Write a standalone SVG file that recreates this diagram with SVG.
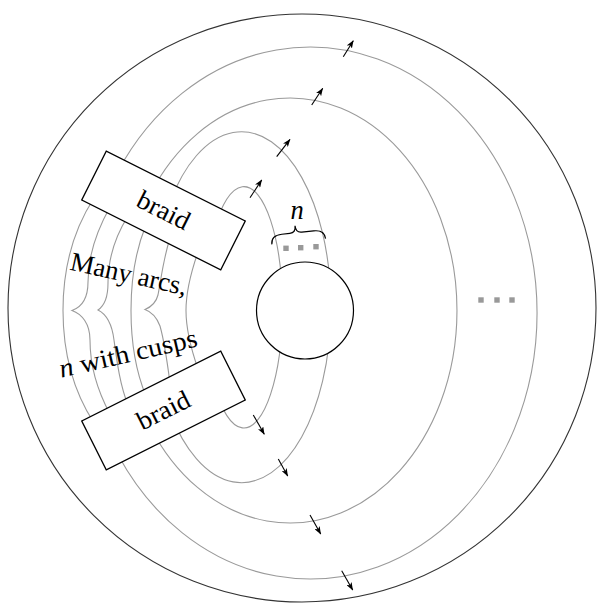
<svg xmlns="http://www.w3.org/2000/svg" width="597" height="605" viewBox="0 0 597 605">
<style>
.g{fill:none;stroke:#9a9a9a;stroke-width:1.1}
.box{fill:#fff;stroke:#000;stroke-width:1.3}
.ar{stroke:#000;stroke-width:1.1;fill:none;marker-end:url(#ah)}
.t{font-family:"Liberation Serif","DejaVu Serif",serif;font-size:26.5px;fill:#000}
.dot{fill:#999}
</style>
<defs>
<marker id="ah" markerWidth="8" markerHeight="6" refX="7.5" refY="3" orient="auto" markerUnits="userSpaceOnUse" viewBox="0 0 8 6">
<path d="M0,0 L8,3 L0,6 L2,3 z" fill="#000"/>
</marker>
</defs>
<rect width="597" height="605" fill="#fff"/>
<g id="outer-circle"><circle cx="302" cy="308" r="294" fill="none" stroke="#333" stroke-width="1.1"/></g>
<g id="connectors">
<path class="g" d="M 118 171.2 A 227 266 0 1 1 118 454.8"/>
<path class="g" d="M 150 194.6 A 167 212.5 0 1 1 150 426.4"/>
<path class="g" d="M 170 201.9 A 89.4 175.5 0 1 1 170 412.5"/>
<path class="g" d="M 215 227.5 A 38.5 120.7 0 1 1 215 387.1"/>
<path class="g" d="M 94 198 C 72 232, 63 270, 63 310.5 C 63 351, 72 389, 94 423"/>
<path class="g" d="M 110 207 C 96 232, 88 258, 88 282 C 88 298, 82 307, 72 310.5 C 82 314, 90 324, 90 340 C 90 364, 97 390, 110 414"/>
<path class="g" d="M 128 216 C 113 240, 108 262, 108 283 C 108 299, 104 306, 98 310 C 106 314, 112 324, 114 340 C 117 362, 120 385, 128 405"/>
<path class="g" d="M 146 225 C 134 254, 131 282, 131 310.5 C 131 339, 134 367, 146 396"/>
<path class="g" d="M 170 238 C 163 260, 161 280, 158 295 C 156 303, 151 307, 145 309.5 C 152 312, 157 318, 160 326 C 164 340, 167 360, 170 383"/>
<path class="g" d="M 198 252 C 190 275, 186 293, 186 310.5 C 186 328, 190 346, 198 369"/>
</g>
<g id="braid-top">
<rect class="box" x="-77.8" y="-27.3" width="155.6" height="54.6" transform="translate(163.5 210.5) rotate(26.7)"/>
<text class="t" text-anchor="middle" x="0" y="8.5" textLength="56" lengthAdjust="spacingAndGlyphs" transform="translate(163.5 210.5) rotate(26.7)">braid</text>
</g>
<g id="braid-bottom">
<rect class="box" x="-77.8" y="-27.3" width="155.6" height="54.6" transform="translate(163.5 410.5) rotate(-26.7)"/>
<text class="t" text-anchor="middle" x="0" y="8.5" textLength="56" lengthAdjust="spacingAndGlyphs" transform="translate(163.5 410.5) rotate(-26.7)">braid</text>
</g>
<g id="inner-circle"><circle cx="305" cy="310.5" r="48.5" fill="#fff" stroke="#000" stroke-width="1.2"/></g>
<g id="arrows">
<line class="ar" x1="250" y1="197.7" x2="261.7" y2="180"/>
<line class="ar" x1="276.7" y1="156.7" x2="290" y2="139.3"/>
<line class="ar" x1="311.7" y1="105" x2="322.7" y2="88.3"/>
<line class="ar" x1="343.3" y1="56.7" x2="353.3" y2="40.7"/>
<line class="ar" x1="253.3" y1="415" x2="264.3" y2="434.3"/>
<line class="ar" x1="278.3" y1="459" x2="287.7" y2="476"/>
<line class="ar" x1="310" y1="515" x2="320.7" y2="534"/>
<line class="ar" x1="341.7" y1="570.7" x2="352.7" y2="590"/>
</g>
<g id="label-n">
<path d="M -27 0 C -27 -6, -23 -9, -16 -9 L -8 -9 C -4 -9, -2 -11, -2 -16 C -2 -11, 0 -9, 4 -9 L 16 -9 C 23 -9, 27 -6, 27 0" fill="none" stroke="#000" stroke-width="1.2" transform="translate(298.7 241.5) rotate(-6)"/>
<text class="t" font-style="italic" text-anchor="middle" x="297" y="218.5">n</text>
<rect class="dot" x="283.3" y="245.6" width="5.4" height="5.4"/>
<rect class="dot" x="298" y="245" width="5.4" height="5.4"/>
<rect class="dot" x="313.3" y="244" width="5.4" height="5.4"/>
</g>
<g id="dots-right">
<rect class="dot" x="478.3" y="297.3" width="5.4" height="5.4"/>
<rect class="dot" x="494.3" y="297.3" width="5.4" height="5.4"/>
<rect class="dot" x="509.3" y="297.3" width="5.4" height="5.4"/>
</g>
<g id="label-arcs">
<text class="t" text-anchor="middle" x="0" y="0" textLength="119" lengthAdjust="spacingAndGlyphs" transform="translate(127 282.5) rotate(12.5)">Many arcs,</text>
<text class="t" text-anchor="middle" x="0" y="0" textLength="141" lengthAdjust="spacingAndGlyphs" transform="translate(130 362) rotate(-13)"><tspan font-style="italic">n</tspan> with cusps</text>
</g>
</svg>
